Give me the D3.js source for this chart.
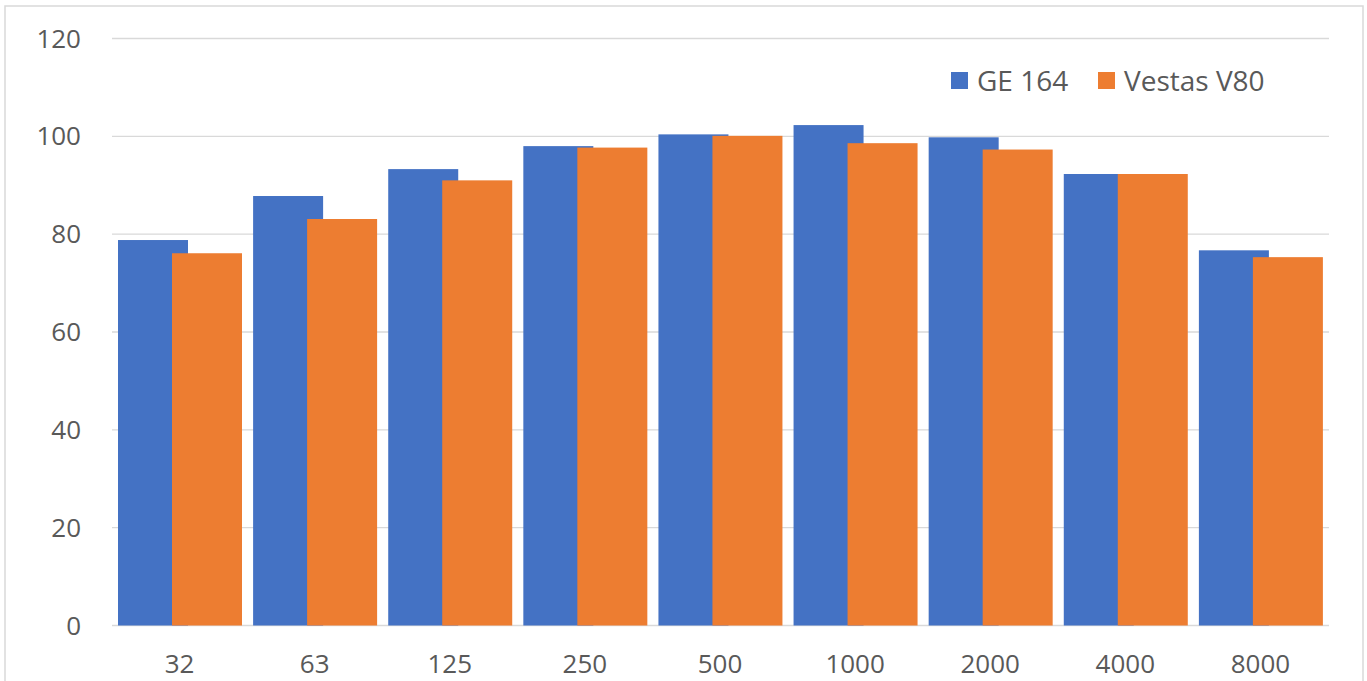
<!DOCTYPE html>
<html><head><meta charset="utf-8">
<script src="https://cdn.jsdelivr.net/npm/d3@7"></script>
<style>html,body{margin:0;padding:0;background:#fff;} svg{display:block;}</style>
</head><body>
<script>
const categories = ["32","63","125","250","500","1000","2000","4000","8000"];
const seriesNames = ["GE 164","Vestas V80"];
const ge164 = [78.8, 87.8, 93.3, 98.0, 100.4, 102.3, 99.8, 92.3, 76.7];
const vestasV80 = [76.1, 83.1, 91.0, 97.7, 100.1, 98.6, 97.3, 92.3, 75.3];
const yTicks = [0, 20, 40, 60, 80, 100, 120];
const colors = ["#4472C4", "#ED7D31"];

const W = 1367, H = 681;
const svg = d3.select("body").append("svg").attr("width", W).attr("height", H);

// chart border
svg.append("rect").attr("x", 5).attr("y", 6).attr("width", 1358).attr("height", 690)
  .attr("fill", "#fff").attr("stroke", "#d9d9d9").attr("stroke-width", 1.5);

const mLeft = 112, mRight = 1328, mTop = 38.5, mBottom = 625.5;
const x = d3.scaleBand().domain(categories).range([mLeft, mRight]).padding(0);
const y = d3.scaleLinear().domain([0, 120]).range([mBottom, mTop]);
const sx = d3.scalePoint().domain(seriesNames).range([6, 60]);
const barW = 70;

const font = "'Open Sans', 'Noto Sans', sans-serif";

// gridlines
svg.append("g").selectAll("line").data(yTicks).join("line")
  .attr("x1", mLeft).attr("x2", mRight + 1)
  .attr("y1", d => y(d)).attr("y2", d => y(d))
  .attr("stroke", "#d9d9d9").attr("stroke-width", 1.3);

// y labels
svg.append("g").selectAll("text").data(yTicks).join("text")
  .attr("x", 81).attr("y", d => y(d)).attr("dy", "0.35em")
  .attr("text-anchor", "end").attr("font-family", font).attr("font-size", 26)
  .attr("fill", "#595959").text(d => d);

// bars
const series = [ge164, vestasV80];
series.forEach((vals, i) => {
  svg.append("g").selectAll("rect").data(categories).join("rect")
    .attr("x", c => x(c) + sx(seriesNames[i]))
    .attr("width", barW)
    .attr("y", (c, j) => y(vals[j]))
    .attr("height", (c, j) => y(0) - y(vals[j]))
    .attr("fill", colors[i]);
});

// x labels
svg.append("g").selectAll("text").data(categories).join("text")
  .attr("x", c => x(c) + x.bandwidth() / 2).attr("y", 673)
  .attr("text-anchor", "middle").attr("font-family", font).attr("font-size", 26)
  .attr("fill", "#595959").text(c => c);

// legend
const legendX = [951, 1098];
seriesNames.forEach((name, i) => {
  svg.append("rect").attr("x", legendX[i]).attr("y", 72).attr("width", 17).attr("height", 17)
    .attr("fill", colors[i]);
  svg.append("text").attr("x", legendX[i] + 26).attr("y", 81).attr("dy", "0.35em")
    .attr("font-family", font).attr("font-size", 28).attr("fill", "#595959").text(name);
});
</script>
</body></html>
